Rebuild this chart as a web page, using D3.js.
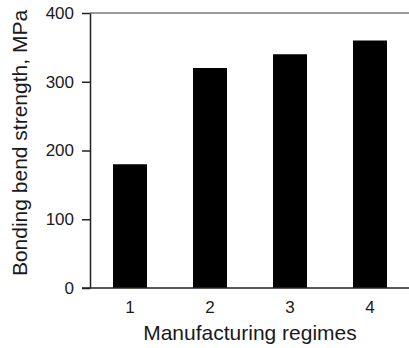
<!DOCTYPE html>
<html>
<head>
<meta charset="utf-8">
<script src="https://cdn.jsdelivr.net/npm/d3@7"></script>
<style>
  body { margin: 0; background: #fff; }
  svg { display: block; font-family: "Liberation Sans", Arial, sans-serif; }
</style>
</head>
<body>
<svg width="409" height="348"></svg>
<script>
// podaci sa grafika
const regimes = ["1", "2", "3", "4"];
const strength = [180, 320, 340, 360];
const yTicks = [0, 100, 200, 300, 400];

const svg = d3.select("svg");

// skale
const x = d3.scaleBand().domain(regimes).range([90, 410]).paddingInner(0.575).paddingOuter(0.2875);
const y = d3.scaleLinear().domain([0, 400]).range([288, 13]);

// gornja siva linija
svg.append("line")
  .attr("x1", 90).attr("x2", 409)
  .attr("y1", y(400)).attr("y2", y(400))
  .attr("stroke", "#9a9a9a")
  .attr("stroke-width", 2);

// stubici
svg.append("g")
  .selectAll("rect")
  .data(strength)
  .enter()
  .append("rect")
  .attr("x", (d, i) => x(regimes[i]))
  .attr("y", d => y(d))
  .attr("width", x.bandwidth())
  .attr("height", d => y(0) - y(d))
  .attr("fill", "#000");

// y osa
const yAxis = svg.append("g")
  .attr("transform", "translate(90,0)")
  .call(d3.axisLeft(y).tickValues(yTicks).tickSize(8).tickPadding(8).tickSizeOuter(0))
  .attr("font-size", 17)
  .attr("font-family", "Liberation Sans, Arial, sans-serif");
yAxis.select(".domain").attr("stroke", "#222").attr("stroke-width", 1.5);
yAxis.selectAll(".tick line").attr("stroke", "#222").attr("stroke-width", 1.5);
yAxis.selectAll("text").attr("fill", "#1a1a1a");

// x osa
svg.append("line")
  .attr("x1", 82).attr("x2", 409)
  .attr("y1", y(0)).attr("y2", y(0))
  .attr("stroke", "#222")
  .attr("stroke-width", 1.5);

const xAxis = svg.append("g")
  .attr("transform", "translate(0,288)")
  .call(d3.axisBottom(x).tickSize(0).tickPadding(13))
  .attr("font-size", 17)
  .attr("font-family", "Liberation Sans, Arial, sans-serif");
xAxis.select(".domain").remove();
xAxis.selectAll("text").attr("fill", "#1a1a1a");

// naslovi osa
svg.append("text")
  .attr("x", 250)
  .attr("y", 340)
  .attr("text-anchor", "middle")
  .style("font-size", "21px")
  .attr("fill", "#1a1a1a")
  .text("Manufacturing regimes");

svg.append("text")
  .attr("text-anchor", "middle")
  .attr("transform", "translate(27,143)rotate(-90)")
  .style("font-size", "21px")
  .attr("fill", "#1a1a1a")
  .text("Bonding bend strength, MPa");
</script>
</body>
</html>
